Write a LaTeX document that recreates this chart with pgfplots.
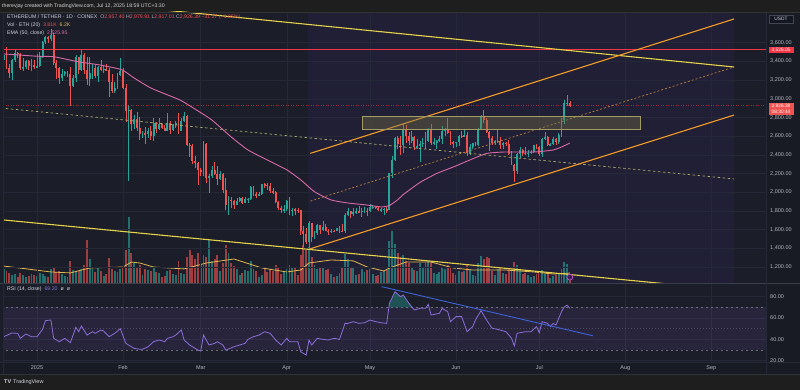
\documentclass[border=0pt]{standalone}
\usepackage{fontspec}
\setmainfont{Liberation Sans}
\usepackage{pgfplots}
\pgfplotsset{compat=1.18}
\usepackage{pgfplotstable}

\definecolor{bgout}{HTML}{1E1E1E}
\definecolor{bgpane}{HTML}{1B1D29}
\definecolor{bgaxis}{HTML}{181A24}
\definecolor{band}{HTML}{211F35}
\definecolor{gridc}{HTML}{252836}
\definecolor{sepc}{HTML}{3A3D4A}
\definecolor{txt}{HTML}{B2B5BE}
\definecolor{txtw}{HTML}{D1D4DC}
\definecolor{upc}{HTML}{26A69A}
\definecolor{dnc}{HTML}{EF5350}
\definecolor{emac}{HTML}{D96AA8}
\definecolor{vmac}{HTML}{E0B84F}
\definecolor{ylw}{HTML}{E6D34A}
\definecolor{orng}{HTML}{F39C2A}
\definecolor{orngd}{HTML}{B7823E}
\definecolor{khaki}{HTML}{B0AE6A}
\definecolor{redl}{HTML}{F23645}
\definecolor{rsic}{HTML}{8C6FD8}
\definecolor{rsiband}{HTML}{7E57C2}
\definecolor{bluel}{HTML}{3F63D8}
\definecolor{zonef}{HTML}{77734A}
\definecolor{zoned}{HTML}{A39C62}
\definecolor{tagbg}{HTML}{131722}
\definecolor{tagbd}{HTML}{434651}
\definecolor{icf}{HTML}{3A2350}
\definecolor{icd}{HTML}{C44FC4}

\newcommand{\fs}{\fontsize{5.5pt}{6pt}\selectfont}
\newcommand{\fl}{\fontsize{5.2pt}{6pt}\selectfont}
\newcommand{\ft}{\fontsize{4.8pt}{5pt}\selectfont}

\pgfplotstableread{
d o h l c v u
-12 3420 3500 3100 3470 8.8 1
-11 3470 3550 3320 3330 7.5 0
-10 3330 3370 3220 3280 6.3 0
-9 3280 3430 3200 3420 5.0 1
-8 3420 3530 3390 3490 5.6 1
-7 3490 3500 3440 3480 3.8 0
-6 3480 3490 3310 3330 6.3 0
-5 3330 3440 3300 3335 5.0 1
-4 3335 3420 3320 3400 3.8 1
-3 3400 3410 3310 3350 4.4 0
-2 3350 3430 3300 3360 5.6 1
-1 3360 3420 3320 3335 5.0 0
0 3335 3480 3330 3355 4.4 1
1 3355 3500 3340 3451 6.3 1
2 3451 3620 3440 3605 5.6 1
3 3605 3670 3590 3657 4.4 1
4 3657 3670 3600 3635 3.8 0
5 3635 3745 3620 3686 8.8 1
6 3686 3700 3360 3380 10.0 0
7 3380 3410 3210 3326 6.9 0
8 3326 3340 3160 3220 7.5 0
9 3220 3320 3190 3266 5.6 1
10 3266 3300 3240 3282 4.4 1
11 3282 3300 3230 3266 3.8 0
12 3266 3340 2920 3135 13.8 0
13 3135 3250 3130 3225 8.1 1
14 3225 3470 3180 3446 7.5 1
15 3446 3450 3260 3310 7.5 0
16 3310 3520 3300 3473 8.8 1
17 3473 3490 3260 3305 11.3 0
18 3305 3450 3150 3215 26.9 0
19 3215 3450 3140 3280 15.0 1
20 3280 3370 3210 3325 8.8 1
21 3325 3360 3220 3240 6.9 0
22 3240 3350 3180 3338 10.0 1
23 3338 3420 3300 3310 7.5 0
24 3310 3350 3280 3318 4.4 1
25 3318 3370 3300 3308 5.6 0
26 3308 3330 3020 3180 15.6 0
27 3180 3260 3060 3078 8.8 0
28 3078 3180 3060 3110 7.5 1
29 3110 3280 3100 3250 6.9 1
30 3250 3440 3240 3298 8.8 1
31 3298 3330 3100 3120 9.4 0
32 3120 3160 2750 2870 20.6 0
33 2870 2930 2120 2880 41.3 1
34 2880 2890 2650 2730 18.8 0
35 2730 2830 2680 2785 12.5 1
36 2785 2860 2660 2690 10.0 0
37 2690 2800 2560 2620 11.3 0
38 2620 2650 2580 2630 5.0 1
39 2630 2700 2520 2625 8.8 0
40 2625 2690 2580 2660 8.1 1
41 2660 2710 2560 2600 7.5 0
42 2600 2790 2550 2740 9.4 1
43 2740 2750 2630 2680 6.9 0
44 2680 2790 2670 2725 6.3 1
45 2725 2730 2680 2692 3.8 0
46 2692 2720 2650 2660 4.4 0
47 2660 2850 2650 2745 7.5 1
48 2745 2760 2620 2670 8.1 0
49 2670 2730 2660 2720 5.6 1
50 2720 2760 2690 2740 5.0 1
51 2740 2845 2620 2660 13.8 0
52 2660 2790 2650 2765 6.3 1
53 2765 2860 2750 2815 5.6 1
54 2815 2830 2490 2510 16.3 0
55 2510 2530 2380 2490 20.6 0
56 2490 2520 2300 2330 17.5 0
57 2330 2390 2260 2310 15.0 0
58 2310 2320 2080 2235 18.8 0
59 2235 2260 2170 2218 11.3 0
60 2218 2550 2170 2520 17.5 1
61 2520 2525 2100 2150 16.3 0
62 2150 2200 1995 2170 27.5 1
63 2170 2280 2150 2240 13.8 1
64 2240 2320 2180 2200 15.0 0
65 2200 2280 2080 2140 17.5 0
66 2140 2230 2130 2200 7.5 1
67 2200 2210 1990 2020 12.5 0
68 2020 2150 1810 1865 23.8 0
69 1865 1960 1760 1920 18.8 1
70 1920 1950 1830 1910 12.5 0
71 1910 1920 1820 1865 10.6 0
72 1865 1940 1860 1910 8.8 1
73 1910 1950 1900 1935 5.0 1
74 1935 1950 1870 1890 6.3 0
75 1890 1950 1880 1925 8.1 1
76 1925 1940 1880 1930 7.5 1
77 1930 2070 1920 2055 13.8 1
78 2055 2070 1960 1985 8.8 0
79 1985 2000 1940 1965 7.5 0
80 1965 2000 1960 1985 3.8 1
81 1985 2090 1970 2085 5.0 1
82 2085 2100 2050 2080 8.8 0
83 2080 2100 2020 2065 6.9 0
84 2065 2100 1990 2010 8.8 0
85 2010 2040 1980 2000 7.5 0
86 2000 2010 1880 1895 11.3 0
87 1895 1905 1810 1830 9.4 0
88 1830 1850 1780 1805 5.6 0
89 1805 1860 1780 1820 7.5 1
90 1820 1920 1800 1905 8.8 1
91 1905 1950 1760 1795 11.3 0
92 1795 1830 1745 1815 9.4 1
93 1815 1830 1760 1812 10.0 0
94 1812 1830 1775 1805 5.0 0
95 1805 1815 1540 1580 17.5 0
96 1580 1640 1410 1555 23.8 0
97 1555 1620 1450 1470 20.6 0
98 1470 1690 1385 1670 22.5 1
99 1670 1670 1470 1520 16.3 0
100 1520 1580 1500 1565 11.3 1
101 1565 1660 1545 1645 8.8 1
102 1645 1650 1550 1595 10.0 0
103 1595 1690 1590 1625 9.4 1
104 1625 1660 1580 1590 8.1 0
105 1590 1610 1540 1580 8.8 0
106 1580 1610 1560 1585 5.6 1
107 1585 1600 1575 1583 3.8 0
108 1583 1620 1580 1615 4.4 1
109 1615 1635 1565 1585 6.3 0
110 1585 1660 1570 1580 10.0 0
111 1580 1780 1560 1755 18.1 1
112 1755 1830 1750 1795 15.0 1
113 1795 1800 1720 1770 10.0 0
114 1770 1830 1745 1785 9.4 1
115 1785 1830 1770 1795 5.0 1
116 1795 1850 1780 1790 5.6 0
117 1790 1830 1740 1800 8.8 1
118 1800 1840 1780 1802 6.9 1
119 1802 1830 1750 1795 8.1 0
120 1795 1875 1790 1840 8.8 1
121 1840 1860 1820 1842 5.6 1
122 1842 1845 1825 1835 4.4 0
123 1835 1850 1800 1808 5.0 0
124 1808 1835 1785 1815 6.9 1
125 1815 1830 1755 1817 7.5 1
126 1817 1845 1780 1810 8.1 0
127 1810 2210 1805 2205 26.3 1
128 2205 2390 2150 2345 32.5 1
129 2345 2590 2330 2585 24.4 1
130 2585 2600 2460 2515 18.8 0
131 2515 2600 2400 2500 16.3 0
132 2500 2740 2420 2680 17.5 1
133 2680 2720 2530 2605 13.8 0
134 2605 2640 2510 2545 12.5 0
135 2545 2650 2530 2595 9.4 1
136 2595 2600 2450 2480 8.1 0
137 2480 2570 2460 2490 7.5 1
138 2490 2550 2320 2520 12.5 1
139 2520 2580 2480 2525 10.0 1
140 2525 2640 2460 2550 12.5 1
141 2550 2690 2540 2665 13.8 1
142 2665 2730 2500 2525 13.1 0
143 2525 2580 2510 2530 6.3 1
144 2530 2560 2460 2550 5.6 1
145 2550 2600 2540 2565 6.9 1
146 2565 2710 2520 2655 9.4 1
147 2655 2690 2600 2680 8.8 1
148 2680 2790 2620 2630 11.3 0
149 2630 2660 2500 2530 10.0 0
150 2530 2545 2475 2528 6.3 0
151 2528 2540 2480 2540 5.0 1
152 2540 2615 2490 2605 7.5 1
153 2605 2660 2585 2590 6.9 0
154 2590 2680 2590 2610 7.5 1
155 2610 2640 2390 2415 11.9 0
156 2415 2520 2400 2480 8.8 1
157 2480 2530 2465 2525 5.0 1
158 2525 2540 2490 2510 4.4 0
159 2510 2690 2490 2680 12.5 1
160 2680 2830 2670 2815 16.9 1
161 2815 2880 2740 2770 15.0 0
162 2770 2790 2630 2645 16.3 0
163 2645 2650 2440 2580 15.6 0
164 2580 2600 2500 2525 7.5 0
165 2525 2560 2500 2545 5.0 1
166 2545 2680 2530 2550 8.8 1
167 2550 2590 2460 2510 9.4 0
168 2510 2540 2460 2525 6.3 1
169 2525 2540 2490 2520 5.6 0
170 2520 2560 2400 2405 8.8 0
171 2405 2440 2290 2295 10.0 0
172 2295 2300 2110 2230 13.1 0
173 2230 2420 2200 2410 11.3 1
174 2410 2480 2370 2450 8.8 1
175 2450 2460 2390 2420 5.6 0
176 2420 2480 2400 2415 6.3 0
177 2415 2450 2380 2425 5.0 1
178 2425 2450 2410 2435 3.8 1
179 2435 2510 2420 2500 4.4 1
180 2500 2520 2460 2485 5.6 0
181 2485 2490 2390 2405 6.9 0
182 2405 2580 2380 2570 8.1 1
183 2570 2640 2555 2590 5.6 1
184 2590 2600 2490 2505 6.3 0
185 2505 2530 2490 2515 3.1 1
186 2515 2590 2505 2570 4.4 1
187 2570 2580 2510 2540 5.0 0
188 2540 2630 2520 2615 6.3 1
189 2615 2790 2590 2770 8.8 1
190 2770 2990 2730 2950 13.1 1
191 2950 3040 2920 2957.4 11.9 1
192 2957.4 2979.91 2917.01 2926.39 3.81 0
}\candles

\pgfplotstableread{
d e
-12 3480
0 3455
6 3450
15 3395
22 3365
28 3330
31 3305
35 3222
41 3115
48 3030
52 2980
58 2870
63 2773
70 2591
76 2452
83 2345
90 2240
95 2133
100 2005
106 1917
112 1885
119 1863
124 1842
127 1858
130 1920
132 1975
138 2105
144 2200
150 2270
156 2345
162 2415
168 2430
174 2430
180 2432
186 2452
189 2484
192 2526
}\ema

\pgfplotstableread{
d v
-12 10.6
5 6.9
12 6.3
19 9.4
31 10
34 13.1
37 12.5
42 10
53 8.8
61 12.5
71 15
81 9.4
90 6.9
95 8.1
98 12.5
106 14.4
114 13.8
119 10
125 7.5
127 9.4
133 13.1
142 13.1
150 9.4
157 8.1
169 8.1
179 6.9
186 5.6
192 6.2
}\vma

\pgfplotstableread{
d r
-12 42.5
-9 46
-7 45.7
-6 41
-4 45
-2 42.5
0 42.5
2 49.4
3 57.5
5 58.2
6 41
8 37.8
10 41
12 36.9
14 51.3
15 47.2
16 52.5
18 44
20 47.2
21 45.7
23 48.8
24 47.8
26 42.5
28 45.7
30 50
32 36.3
33 34.7
35 31.6
37 30.7
38 30.7
40 33.1
42 37.8
44 39.4
46 37.8
47 41
49 42.5
50 44
52 48.8
53 39.4
55 34.7
58 30
59 29
60 44
62 34.7
64 36.3
65 37.8
67 34.7
68 30
71 33.1
73 34.7
75 36.3
76 40
78 42.5
80 44
82 47.2
84 45.7
86 39.4
88 34.7
90 41
91 37.8
94 37.8
95 28.4
97 25.3
98 39.4
99 34.7
101 41
103 40
105 39.4
107 41
109 40
111 55
112 55
114 56.6
116 55
118 55.6
120 58.2
122 56.6
124 55.6
126 55
127 73.8
129 84.7
131 80
132 81.6
134 73.8
136 67.5
138 69.1
140 69.1
141 72.8
142 62.8
145 64.4
146 69.1
148 65.9
149 56.6
151 61.3
153 61.3
155 47.2
157 52
158 58.2
160 66.9
162 58.2
164 50.4
166 49.4
169 47.2
171 41
172 33.8
173 45.7
176 47.2
178 47.2
180 52
181 46.3
182 56.6
184 55
185 52
186 55
187 53.4
189 65.9
190 70.5
191 72
192 69.2
}\rsi

\begin{document}
\begin{tikzpicture}[x=1pt,y=1pt]
\useasboundingbox (0,0) rectangle (800,390);
\fill[bgout] (0,0) rectangle (800,390);
\fill[bgpane] (0,16) rectangle (800,378);
\fill[bgaxis] (766,16) rectangle (800,378);
\fill[bgaxis] (0,16) rectangle (800,28);

% ---------- volume pane (behind price) ----------
\begin{axis}[at={(4pt,107pt)}, anchor=south west, scale only axis,
  width=762pt, height=271pt, xmin=-11.9, xmax=262.7, ymin=0, ymax=169.4,
  hide axis, clip=true]
\addplot[fill=band, draw=none] coordinates {(97.7,0) (251.2,0) (251.2,169.4) (97.7,169.4)} --cycle;
\addplot[ycomb, mark=none, line width=1.9pt, draw=upc, draw opacity=0.62]
  table[x=d, y expr={\thisrow{v}*\thisrow{u}}] {\candles};
\addplot[ycomb, mark=none, line width=1.9pt, draw=dnc, draw opacity=0.62]
  table[x=d, y expr={\thisrow{v}*(1-\thisrow{u})}] {\candles};
\addplot[vmac, line width=0.8pt] table[x=d, y=v] {\vma};
\end{axis}

% ---------- price pane ----------
\begin{axis}[at={(4pt,107pt)}, anchor=south west, scale only axis,
  width=762pt, height=271pt, xmin=-11.9, xmax=262.7, ymin=1028.8, ymax=3928.5,
  axis line style={draw=none}, major tick length=0, tick style={draw=none},
  xtick={0,31,59,90,120,151,181,212,243}, xticklabels={,,,,,,,,},
  ytick={1200,1400,...,3600},
  yticklabels={{1,200.00},{1,400.00},{1,600.00},{1,800.00},{2,000.00},{2,200.00},{2,400.00},{2,600.00},{2,800.00},{3,000.00},{3,200.00},{3,400.00},{3,600.00}},
  yticklabel pos=right,
  yticklabel style={anchor=west, inner sep=0pt, xshift=4pt, font=\fs, text=txt},
  grid=major, grid style={draw=gridc, line width=0.5pt}, clip=true]
% candles: wicks
\addplot[draw=none, mark=none, forget plot,
  error bars/.cd, y dir=both, y explicit, error mark=none,
  error bar style={draw=upc, line width=0.6pt, solid}]
  table[x=d, y expr={(\thisrow{h}+\thisrow{l})/2}, y error expr={\thisrow{u}*(\thisrow{h}-\thisrow{l})/2}] {\candles};
\addplot[draw=none, mark=none, forget plot,
  error bars/.cd, y dir=both, y explicit, error mark=none,
  error bar style={draw=dnc, line width=0.6pt, solid}]
  table[x=d, y expr={(\thisrow{h}+\thisrow{l})/2}, y error expr={(1-\thisrow{u})*(\thisrow{h}-\thisrow{l})/2}] {\candles};
% candles: bodies
\addplot[draw=none, mark=none, forget plot,
  error bars/.cd, y dir=both, y explicit, error mark=none,
  error bar style={draw=upc, line width=1.9pt, solid}]
  table[x=d, y expr={(\thisrow{o}+\thisrow{c})/2}, y error expr={\thisrow{u}*max(abs(\thisrow{c}-\thisrow{o})/2,5)}] {\candles};
\addplot[draw=none, mark=none, forget plot,
  error bars/.cd, y dir=both, y explicit, error mark=none,
  error bar style={draw=dnc, line width=1.9pt, solid}]
  table[x=d, y expr={(\thisrow{o}+\thisrow{c})/2}, y error expr={(1-\thisrow{u})*max(abs(\thisrow{c}-\thisrow{o})/2,5)}] {\candles};
% EMA 50
\addplot[emac, line width=0.9pt, smooth, tension=0.3] table[x=d, y=e] {\ema};
% current price & horizontal level
\addplot[redl, line width=0.5pt, dash pattern=on 1pt off 1.5pt, draw opacity=0.6] coordinates {(-13,2926.39) (263,2926.39)};
\addplot[redl, line width=0.9pt] coordinates {(-13,3526.05) (263,3526.05)};
% descending channel
\addplot[khaki, line width=0.7pt, dash pattern=on 2.5pt off 2.5pt] coordinates {(-13,2901) (251.2,2142)};
\addplot[ylw, line width=1.1pt] coordinates {(-13,4124) (251.2,3340)};
\addplot[ylw, line width=1.1pt] coordinates {(-13,1706) (251.2,950)};
% ascending channel
\addplot[orngd, line width=0.7pt, dash pattern=on 2pt off 2pt] coordinates {(98.5,1905) (251.2,3340)};
\addplot[orng, line width=1.1pt] coordinates {(98.5,2416) (251.2,3854)};
\addplot[orng, line width=1.1pt] coordinates {(98.5,1395) (251.2,2826)};
% resistance zone
\addplot[fill=zonef, fill opacity=0.38, draw=zoned, line width=0.6pt] coordinates {(117.1,2673) (217.3,2673) (217.3,2808) (117.1,2808)} --cycle;
% event marker
\addplot[only marks, mark=*, mark size=3pt, mark options={fill=icf, draw=icd, line width=0.8pt}] coordinates {(192,1092)};
\end{axis}

% ---------- RSI pane ----------
\begin{axis}[at={(4pt,28pt)}, anchor=south west, scale only axis,
  width=762pt, height=78pt, xmin=-11.9, xmax=262.7, ymin=18.8, ymax=91.9,
  axis line style={draw=none}, major tick length=0, tick style={draw=none},
  xtick={0,31,59,90,120,151,181,212,243},
  xticklabels={2025,Feb,Mar,Apr,May,Jun,Jul,Aug,Sep},
  xticklabel style={anchor=center, inner sep=0pt, yshift=-6pt, font=\fs, text=txt},
  ytick={20,40,60,80}, yticklabels={20.00,40.00,60.00,80.00},
  yticklabel pos=right,
  yticklabel style={anchor=west, inner sep=0pt, xshift=4pt, font=\fs, text=txt},
  grid=major, grid style={draw=gridc, line width=0.5pt}, clip=true]
\addplot[fill=rsiband, fill opacity=0.13, draw=none] coordinates {(-13,30) (263,30) (263,70) (-13,70)} --cycle;
\addplot[txt, draw opacity=0.5, line width=0.5pt, dash pattern=on 2.5pt off 2.5pt] coordinates {(-13,70) (263,70)};
\addplot[txt, draw opacity=0.5, line width=0.5pt, dash pattern=on 2.5pt off 2.5pt] coordinates {(-13,30) (263,30)};
\addplot[txt, draw opacity=0.25, line width=0.5pt, dash pattern=on 1pt off 2pt] coordinates {(-13,50) (263,50)};
\addplot[fill=upc, fill opacity=0.4, draw=none] coordinates {(126.8,70) (127,73.8) (129,84.7) (131,80) (132,81.6) (134,73.8) (135.2,70)} --cycle;
\addplot[rsic, line width=0.8pt] table[x=d, y=r] {\rsi};
\addplot[bluel, line width=0.9pt] coordinates {(124.2,89.4) (200.3,43.4)};
\end{axis}

% ---------- separators ----------
\draw[sepc, line width=1.2pt] (0,106.5) -- (800,106.5);
\draw[gridc, line width=0.6pt] (0,28) -- (800,28);
\draw[gridc, line width=0.6pt] (766,16) -- (766,378);
\draw[gridc, line width=0.6pt] (3.5,16) -- (3.5,378);
\draw[black!80, line width=0.6pt] (0,378) -- (800,378);
\draw[black!80, line width=0.6pt] (0,16) -- (800,16);

% ---------- price tags ----------
\filldraw[fill=tagbg, draw=tagbd, line width=0.4pt] (769,366.7) rectangle (793,375);
\node[font=\ft, text=txtw, inner sep=0pt] at (781,370.8) {USDT};
\fill[redl] (768.5,336.5) rectangle (793.5,342.5);
\node[font=\ft, text=white, inner sep=0pt] at (781,339.5) {3,526.05};
\fill[dnc] (768.5,274.5) rectangle (793.5,287);
\node[font=\ft, text=white, inner sep=0pt] at (781,283.5) {2,926.39};
\node[font=\ft, text=white, inner sep=0pt] at (781,277.7) {08:30:44};

% ---------- texts ----------
\node[anchor=west, inner sep=0pt, font=\fl, text=txtw] at (2,384.3)
  {therevjay created with TradingView.com, Jul 12, 2025 18:59 UTC+3:30};
\node[anchor=west, inner sep=0pt, font=\fl, text=txtw] at (7,372.7)
  {ETHEREUM / TETHER · 1D · COINEX\hspace{3pt}\textcolor{txt}{O}\textcolor{dnc}{2,957.40} \textcolor{txt}{H}\textcolor{dnc}{2,979.91} \textcolor{txt}{L}\textcolor{dnc}{2,917.01} \textcolor{txt}{C}\textcolor{dnc}{2,926.39} \textcolor{dnc}{−31.27 (−1.05\%)}};
\node[anchor=west, inner sep=0pt, font=\fl, text=txtw] at (7,364.8)
  {Vol · ETH (20)\hspace{3pt}\textcolor{dnc}{3.81K}\hspace{3pt}\textcolor{vmac}{6.2K}};
\node[anchor=west, inner sep=0pt, font=\fl, text=txtw] at (7,357.3)
  {EMA (50, close)\hspace{3pt}\textcolor{emac}{2,525.95}};
\node[anchor=west, inner sep=0pt, font=\fl, text=txtw] at (7,100.7)
  {RSI (14, close)\hspace{3pt}\textcolor{rsic}{69.20}\hspace{3pt}ø\hspace{3pt}ø};
\node[anchor=west, inner sep=0pt, font=\fs, text=txtw] at (4,7.5)
  {\textbf{TV}\hspace{2pt}TradingView};
\end{tikzpicture}
\end{document}
